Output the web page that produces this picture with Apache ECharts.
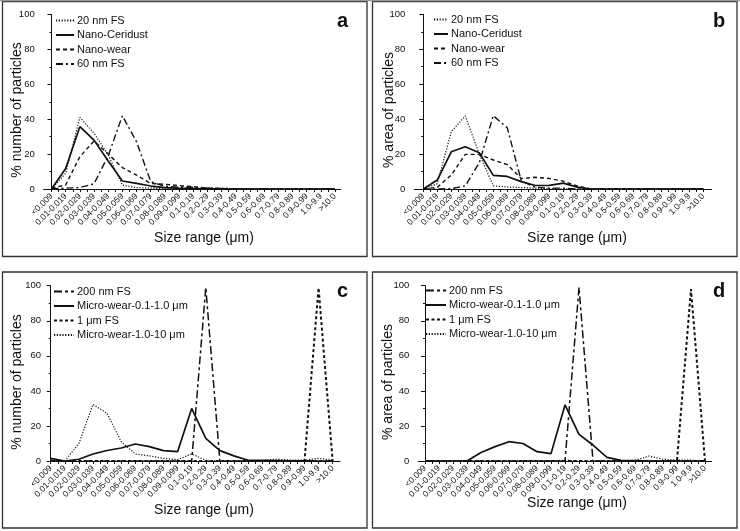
<!DOCTYPE html>
<html>
<head>
<meta charset="utf-8">
<script src="https://cdn.jsdelivr.net/npm/echarts@6/dist/echarts.min.js"></script>
<style>
html,body{margin:0;padding:0;background:#fff;}
#chart{width:740px;height:531px;}
</style>
</head>
<body>
<div id="chart"></div>
<script>
// ---------- DATA ----------
const categories = ['<0.009','0.01-0.019','0.02-0.029','0.03-0.039','0.04-0.049','0.05-0.059','0.06-0.069','0.07-0.079','0.08-0.089','0.09-0.099','0.1-0.19','0.2-0.29','0.3-0.39','0.4-0.49','0.5-0.59','0.6-0.69','0.7-0.79','0.8-0.89','0.9-0.99','1.0-9.9','>10.0'];
const yTicks = [0, 20, 40, 60, 80, 100];

// Panel a: % number of particles
const a_fs20      = [0, 9, 41, 32, 19.5, 2.3, 0.8, 0.5, 0.3, 0.2, 0.1, 0, 0, 0, 0, 0, 0, 0, 0, 0, 0];
const a_ceridust  = [0, 11.8, 35.7, 28, 16, 4.6, 3.2, 1.7, 0.8, 0.5, 0.3, 0.2, 0, 0, 0, 0, 0, 0, 0, 0, 0];
const a_nanowear  = [0.5, 2.3, 18.5, 27.5, 20, 12.3, 8, 3.2, 2.7, 2, 1.3, 0.5, 0.3, 0, 0, 0, 0, 0, 0, 0, 0];
const a_fs60      = [0, 0.5, 0.8, 3, 19, 42, 27, 4.2, 1.5, 1, 1, 0.5, 0.3, 0.2, 0, 0, 0, 0, 0, 0, 0];

// Panel b: % area of particles
const b_fs20      = [0, 3, 32.8, 41.8, 20, 1.8, 1.2, 0.8, 0.5, 0.2, 0, 0, 0, 0, 0, 0, 0, 0, 0, 0, 0];
const b_ceridust  = [0, 5.1, 21.3, 24.2, 20.8, 7.8, 7.2, 4.2, 2, 2.1, 3.4, 1.1, 0, 0, 0, 0, 0, 0, 0, 0, 0];
const b_nanowear  = [0, 1, 8, 19.8, 19.8, 16.6, 14, 6, 6.7, 6, 4.5, 1.7, 0, 0, 0, 0, 0, 0, 0, 0, 0];
const b_fs60      = [0, 0, 0.2, 1.8, 15, 42, 35, 4.6, 1, 0.5, 0.5, 0, 0, 0, 0, 0, 0, 0, 0, 0, 0];

// Panel c: % number of particles
const c_fs200     = [0, 0, 0, 0, 0, 0, 0, 0, 0, 0, 0, 99, 0, 0, 0, 0, 0, 0, 0, 0, 0];
const c_mw01      = [1.5, 0, 1, 4, 6, 7.4, 9.7, 8.2, 5.9, 5.3, 30, 12.9, 5.9, 2.9, 0.4, 0.3, 0.2, 0.1, 0.1, 0, 0];
const c_fs1       = [0, 0, 0, 0, 0, 0, 0, 0, 0, 0, 0, 0, 0, 0, 0, 0, 0, 0, 0, 98.8, 0];
const c_mw10      = [0.5, 0, 10, 32.3, 27.2, 11, 4, 2.9, 1.5, 0.8, 4, 0.4, 0, 0, 0, 0.3, 1, 0.5, 0.5, 1.5, 0.5];

// Panel d: % area of particles
const d_fs200     = [0, 0, 0, 0, 0, 0, 0, 0, 0, 0, 0, 99, 0, 0, 0, 0, 0, 0, 0, 0, 0];
const d_mw01      = [0, 0, 0, 0, 4.8, 8.2, 11, 10, 5.3, 4.2, 32, 15.2, 9.1, 2.1, 0.4, 0.2, 0, 0, 0, 0, 0];
const d_fs1       = [0, 0, 0, 0, 0, 0, 0, 0, 0, 0, 0, 0, 0, 0, 0, 0, 0, 0, 0, 98, 0];
const d_mw10      = [0, 0, 0, 0, 0, 0, 0, 0, 0, 0, 0.5, 0, 0, 0, 0, 0.3, 2.8, 1, 0.5, 0.5, 0];

const namesTop = ['20 nm FS', 'Nano-Ceridust', 'Nano-wear', '60 nm FS'];
const namesBot = ['200 nm FS', 'Micro-wear-0.1-1.0 \u03bcm', '1 \u03bcm FS', 'Micro-wear-1.0-10 \u03bcm'];

// ---------- STYLE / LAYOUT ----------
const FONT = 'Arial, "Liberation Sans", Helvetica, sans-serif';
const INK = '#111';
const styles = {
  dotted:   { type: [1.2, 1.6], width: 1.2 },
  solid:    { type: 'solid', width: 1.7 },
  dashed:   { type: [4, 3], width: 1.4 },
  dashdot:  { type: [7, 3, 2, 3], width: 1.4 },
  longshort:{ type: [8, 3, 3, 3], width: 1.5 },
  bolddash: { type: [3, 2.5], width: 2 }
};

const panels = [
  { grid: {left: 43.7, top: 14.5, width: 297, height: 174.5}, xmin: -0.55, xmax: 20.4,
    ytitle: '% number of particles', yt: [17, 110], xt: [204, 238], letter: 'a', lp: [337, 21],
    legend: {left: 55, top: 15, w: 18}, names: namesTop,
    series: [[a_fs20, 'dotted'], [a_ceridust, 'solid'], [a_nanowear, 'dashed'], [a_fs60, 'dashdot']] },
  { grid: {left: 414.3, top: 14.3, width: 297.4, height: 174.7}, xmin: -0.64, xmax: 20.6,
    ytitle: '% area of particles', yt: [389, 110], xt: [577, 238], letter: 'b', lp: [713, 21],
    legend: {left: 433, top: 14, w: 14}, names: namesTop,
    series: [[b_fs20, 'dotted'], [b_ceridust, 'solid'], [b_nanowear, 'dashed'], [b_fs60, 'dashdot']] },
  { grid: {left: 50, top: 285.7, width: 290, height: 175.3}, xmin: -0.05, xmax: 20.52,
    ytitle: '% number of particles', yt: [17, 382], xt: [204, 510], letter: 'c', lp: [337, 291],
    legend: {left: 53, top: 286, w: 20}, names: namesBot,
    series: [[c_fs200, 'longshort'], [c_mw01, 'solid'], [c_fs1, 'bolddash'], [c_mw10, 'dotted']] },
  { grid: {left: 418.3, top: 285.7, width: 293.4, height: 175.3}, xmin: -0.48, xmax: 20.48,
    ytitle: '% area of particles', yt: [388, 382], xt: [577, 503], letter: 'd', lp: [713, 291],
    legend: {left: 425, top: 285, w: 20}, names: namesBot,
    series: [[d_fs200, 'longshort'], [d_mw01, 'solid'], [d_fs1, 'bolddash'], [d_mw10, 'dotted']] }
];

const catIdx = categories.map((c, i) => i);
const halfTicks = [];
for (let i = 0; i <= 20; i++) { halfTicks.push(i); if (i < 20) halfTicks.push(i + 0.5); }

const option = {
  animation: false,
  backgroundColor: '#fff',
  grid: [], xAxis: [], yAxis: [], series: [], legend: [], graphic: []
};

panels.forEach((p, k) => {
  option.grid.push(Object.assign({ containLabel: false }, p.grid));
  option.xAxis.push({
    type: 'value', gridIndex: k, min: p.xmin, max: p.xmax,
    axisLine: { show: true, onZero: false, lineStyle: { color: INK, width: 1 } },
    splitLine: { show: false },
    axisTick: { show: true, customValues: halfTicks, length: 3, lineStyle: { color: INK, width: 1 } },
    axisLabel: { customValues: catIdx, rotate: 45, margin: 6, fontSize: 8.5, color: INK, fontFamily: FONT,
      formatter: v => categories[Math.round(v)] }
  });
  option.yAxis.push({
    type: 'value', gridIndex: k, min: yTicks[0], max: yTicks[yTicks.length - 1], interval: 20,
    axisLine: { show: true, lineStyle: { color: INK, width: 1 } },
    splitLine: { show: false },
    axisTick: { show: true, length: 4, lineStyle: { color: INK, width: 1 } },
    minorTick: { show: true, splitNumber: 2, length: 2, lineStyle: { color: INK, width: 1 } },
    axisLabel: { margin: 9, fontSize: 9.5, color: INK, fontFamily: FONT }
  });
  p.series.forEach((s, j) => {
    const st = styles[s[1]];
    option.series.push({
      name: p.names[j], type: 'line', xAxisIndex: k, yAxisIndex: k,
      symbol: 'none', showSymbol: false,
      data: s[0].map((v, i) => [catIdx[i], v]),
      lineStyle: { color: INK, width: st.width, type: st.type },
      itemStyle: { color: INK }
    });
  });
  option.legend.push({
    data: p.names, orient: 'vertical', left: p.legend.left, top: p.legend.top, padding: 0,
    itemWidth: p.legend.w, itemHeight: 10, itemGap: 3.5, selectedMode: false,
    itemStyle: { opacity: 0, color: 'rgba(0,0,0,0)', borderWidth: 0 },
    textStyle: { fontSize: 11, color: INK, fontFamily: FONT, padding: [0, 0, 0, -2] }
  });
  option.graphic.push(
    { type: 'text', x: p.yt[0], y: p.yt[1], rotation: Math.PI / 2,
      style: { text: p.ytitle, fill: INK, font: '14px ' + FONT, textAlign: 'center', textVerticalAlign: 'middle' } },
    { type: 'text', x: p.xt[0], y: p.xt[1],
      style: { text: 'Size range (\u03bcm)', fill: INK, font: '14px ' + FONT, textAlign: 'center', textVerticalAlign: 'middle' } },
    { type: 'text', x: p.lp[0], y: p.lp[1],
      style: { text: p.letter, fill: INK, font: 'bold 20px ' + FONT, textAlign: 'left', textVerticalAlign: 'middle' } }
  );
});

// panel frames
option.graphic.push(
  { type: 'rect', shape: { x: 2.5, y: 1.5, width: 364.5, height: 255 }, style: { fill: 'none', stroke: '#333', lineWidth: 1.3 }, silent: true },
  { type: 'rect', shape: { x: 372.5, y: 1.5, width: 364.5, height: 255 }, style: { fill: 'none', stroke: '#333', lineWidth: 1.3 }, silent: true },
  { type: 'rect', shape: { x: 2.5, y: 272, width: 364.5, height: 256 }, style: { fill: 'none', stroke: '#333', lineWidth: 1.3 }, silent: true },
  { type: 'rect', shape: { x: 372.5, y: 272, width: 364.5, height: 256 }, style: { fill: 'none', stroke: '#333', lineWidth: 1.3 }, silent: true },
  { type: 'rect', shape: { x: 0, y: 0, width: 740, height: 1.2 }, style: { fill: '#999' }, silent: true }
);

const chart = echarts.init(document.getElementById('chart'), null, { renderer: 'canvas' });
chart.setOption(option);
</script>
</body>
</html>
